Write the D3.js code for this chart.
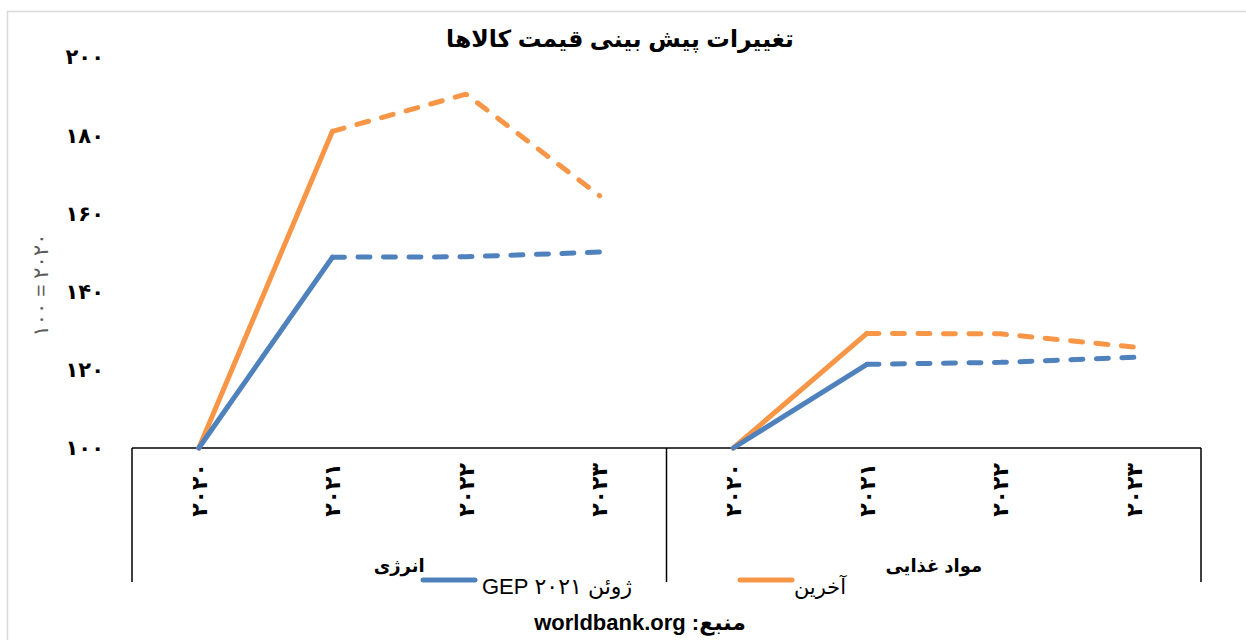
<!DOCTYPE html>
<html>
<head>
<meta charset="utf-8">
<script src="https://cdn.jsdelivr.net/npm/d3@7"></script>
<style>
  body { margin: 0; background: #fff; }
  svg { display: block; }
  text { font-family: "Liberation Sans", "DejaVu Sans", sans-serif; }
</style>
</head>
<body>
<svg id="chart" width="1246" height="640"></svg>
<script>
// ---------- data ----------
const groups = ["انرژی", "مواد غذایی"];
const years = ["2020", "2021", "2022", "2023"];
const seriesNames = ["ژوئن ۲۰۲۱ GEP", "آخرین"];
const juneEnergy = [100, 148.8, 148.9, 150.1];
const latestEnergy = [100, 181, 190.5, 164.5];
const juneFood = [100, 121.4, 121.9, 123.2];
const latestFood = [100, 129.3, 129.2, 125.8];
const yTicks = [100, 120, 140, 160, 180, 200];
const title = "تغییرات پیش بینی قیمت کالاها";
const yTitle = "100 = 2020";
const source = "منبع: worldbank.org";

// ---------- helpers ----------
const fa = s => String(s).replace(/[0-9]/g, d => "۰۱۲۳۴۵۶۷۸۹"[+d]);
const colors = { june: "#4F81BD", latest: "#F79646" };

const svg = d3.select("#chart");

// border
svg.append("rect").attr("x", 7.5).attr("y", 11.5).attr("width", 1260).attr("height", 660)
  .attr("fill", "#fff").attr("stroke", "#d9d9d9").attr("stroke-width", 1.5);

// scales
const keys = [];
groups.forEach((g, gi) => years.forEach(y => keys.push(gi + "-" + y)));
const x = d3.scaleBand().domain(keys).range([132, 1201]).padding(0);
const y = d3.scaleLinear().domain([100, 200]).range([448, 57]);
const cx = k => x(k) + x.bandwidth() / 2;

// y tick labels
svg.append("g").selectAll("text").data(yTicks).join("text")
  .attr("x", 104).attr("y", d => y(d)).attr("dy", "0.35em")
  .attr("text-anchor", "end").attr("font-weight", "bold").attr("font-size", 21)
  .attr("fill", "#000").text(d => fa(d));

// y title
svg.append("text")
  .attr("transform", `translate(48,285) rotate(-90)`)
  .attr("text-anchor", "middle").attr("font-size", 21).attr("fill", "#595959")
  .attr("direction", "ltr").text(fa(yTitle));

// x axis lines
const axis = svg.append("g").attr("stroke", "#000").attr("stroke-width", 1.5);
axis.append("line").attr("x1", 132).attr("x2", 1201).attr("y1", y(100)).attr("y2", y(100));
[0, 1, 2].forEach(i => {
  const xx = i < 2 ? x(i + "-2020") : x("1-2023") + x.bandwidth();
  axis.append("line").attr("x1", xx).attr("x2", xx).attr("y1", y(100)).attr("y2", 582);
});

// category labels
svg.append("g").selectAll("text").data(keys).join("text")
  .attr("transform", k => `translate(${cx(k)},490) rotate(-90)`)
  .attr("text-anchor", "middle").attr("dy", "0.35em")
  .attr("font-weight", "bold").attr("font-size", 22)
  .text(k => fa(k.split("-")[1]));

// group labels
svg.append("g").selectAll("text").data(groups).join("text")
  .attr("x", (g, gi) => (x(gi + "-2020") + x(gi + "-2023") + x.bandwidth()) / 2)
  .attr("y", 572).attr("text-anchor", "middle")
  .attr("font-weight", "bold").attr("font-size", 18).attr("direction", "rtl")
  .text(d => d);

// lines
const line = d3.line().x(d => cx(d.k)).y(d => y(d.v));
const series = [
  { g: 0, vals: latestEnergy, c: colors.latest },
  { g: 0, vals: juneEnergy, c: colors.june },
  { g: 1, vals: latestFood, c: colors.latest },
  { g: 1, vals: juneFood, c: colors.june }
];
const lg = svg.append("g").attr("fill", "none").attr("stroke-width", 5)
  .attr("stroke-linecap", "round").attr("stroke-linejoin", "round");
series.forEach(s => {
  const pts = s.vals.map((v, i) => ({ k: s.g + "-" + years[i], v }));
  lg.append("path").attr("d", line(pts.slice(0, 2))).attr("stroke", s.c);
  lg.append("path").attr("d", line(pts.slice(1))).attr("stroke", s.c)
    .attr("stroke-dasharray", "12 13.5");
});

// legend
const leg = svg.append("g");
leg.append("line").attr("x1", 423).attr("x2", 475).attr("y1", 580).attr("y2", 580)
  .attr("stroke", colors.june).attr("stroke-width", 5).attr("stroke-linecap", "round");
leg.append("text").attr("x", 557).attr("y", 594).attr("text-anchor", "middle")
  .attr("direction", "rtl").attr("font-size", 22).text(seriesNames[0]);
leg.append("line").attr("x1", 740).attr("x2", 792).attr("y1", 580).attr("y2", 580)
  .attr("stroke", colors.latest).attr("stroke-width", 5).attr("stroke-linecap", "round");
leg.append("text").attr("x", 820).attr("y", 594).attr("text-anchor", "middle")
  .attr("direction", "rtl").attr("font-size", 21).text(seriesNames[1]);

// title
svg.append("text").attr("x", 620).attr("y", 47).attr("text-anchor", "middle")
  .attr("direction", "rtl").attr("font-weight", "bold").attr("font-size", 23.5).text(title);

// source
svg.append("text").attr("x", 640).attr("y", 630).attr("text-anchor", "middle")
  .attr("direction", "rtl").attr("font-weight", "bold").attr("font-size", 22).text(source);
</script>
</body>
</html>
